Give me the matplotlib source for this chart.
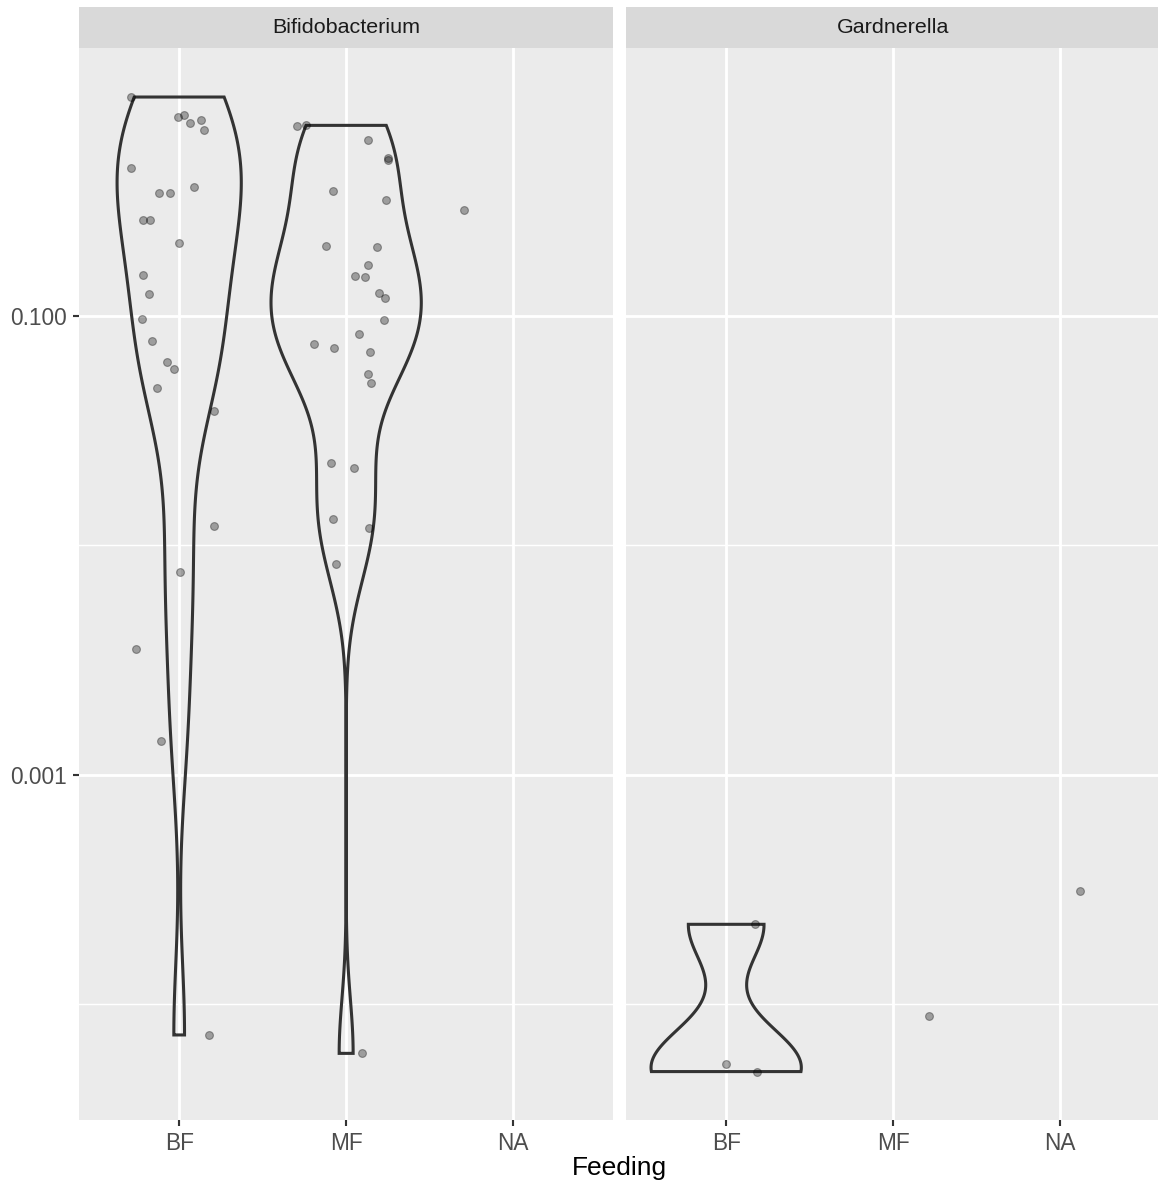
import numpy as np
import matplotlib.pyplot as plt
from matplotlib.ticker import FixedLocator, NullFormatter

plt.rcParams['font.family'] = ['Liberation Sans', 'DejaVu Sans']

feeding = ['BF', 'MF', 'NA']
genera = ['Bifidobacterium', 'Gardnerella']

# relative abundance per sample
bifido_bf = [0.897, 0.734, 0.748, 0.690, 0.711, 0.643, 0.440, 0.343, 0.344, 0.362,
             0.261, 0.260, 0.208, 0.150, 0.124, 0.0966, 0.0773, 0.0627, 0.0586,
             0.0486, 0.0386, 0.0121, 0.00762, 0.00352, 0.00140, 0.0000735]
bifido_mf = [0.670, 0.675, 0.582, 0.489, 0.478, 0.348, 0.320, 0.201, 0.199, 0.166,
             0.149, 0.148, 0.126, 0.120, 0.0955, 0.0836, 0.0750, 0.0724, 0.0698,
             0.0555, 0.0507, 0.0229, 0.0216, 0.0130, 0.0119, 0.00826, 0.0000611]
bifido_na = [0.289]
gard_bf = [0.000223, 0.0000550, 0.0000509]
gard_mf = [0.0000885]
gard_na = [0.000313]

# horizontal jitter of each point
bifido_bf_jit = [-0.287, -0.010, 0.028, 0.062, 0.130, 0.146, -0.286, -0.120, -0.054, 0.090,
                 -0.216, -0.175, -0.002, -0.214, -0.178, -0.223, -0.163, -0.070, -0.034,
                 -0.134, 0.208, 0.210, 0.002, -0.257, -0.110, 0.181]
bifido_mf_jit = [-0.292, -0.242, 0.130, 0.250, 0.248, -0.080, 0.241, -0.118, 0.184, 0.133,
                 0.054, 0.110, 0.196, 0.235, 0.228, 0.074, -0.192, -0.070, 0.142,
                 0.132, 0.148, -0.092, 0.050, -0.078, 0.138, -0.060, 0.092]
bifido_na_jit = [-0.293]
gard_bf_jit = [0.173, -0.004, 0.185]
gard_mf_jit = [0.213]
gard_na_jit = [0.119]

panels = {
    'Bifidobacterium': [(bifido_bf, bifido_bf_jit), (bifido_mf, bifido_mf_jit), (bifido_na, bifido_na_jit)],
    'Gardnerella': [(gard_bf, gard_bf_jit), (gard_mf, gard_mf_jit), (gard_na, gard_na_jit)],
}


def density(values, n=512):
    # gaussian kde on log10 scale, nrd0 bandwidth, trimmed to data range
    y = np.log10(values)
    sd = y.std(ddof=1)
    q75, q25 = np.percentile(y, [75, 25])
    bw = 0.9 * min(sd, (q75 - q25) / 1.34) * len(y) ** -0.2
    grid = np.linspace(y.min(), y.max(), n)
    d = np.exp(-0.5 * ((grid[:, None] - y[None, :]) / bw) ** 2).sum(1)
    d /= len(y) * bw * np.sqrt(2 * np.pi)
    return grid, d


all_vals = np.log10(np.concatenate([np.array(v) for g in panels.values() for v, _ in g]))
lo, hi = all_vals.min(), all_vals.max()
pad = 0.05 * (hi - lo)
ylim = (10 ** (lo - pad), 10 ** (hi + pad))

W, H, DPI = 1158, 1189, 170
fig = plt.figure(figsize=(W / DPI, H / DPI), dpi=DPI)

pw = 534.3
lefts = [79, 626]
ptop, pbot = 48.3, 1120.3
stop = 7.3

for k, genus in enumerate(genera):
    ax = fig.add_axes([lefts[k] / W, (H - pbot) / H, pw / W, (pbot - ptop) / H])
    ax.set_facecolor('#EBEBEB')
    for s in ax.spines.values():
        s.set_visible(False)
    ax.set_yscale('log')
    ax.set_ylim(ylim)
    ax.set_xlim(0.4, 3.6)
    ax.set_axisbelow(True)

    ax.yaxis.set_major_locator(FixedLocator([1e-3, 1e-1]))
    ax.yaxis.set_minor_locator(FixedLocator([1e-4, 1e-2]))
    ax.yaxis.set_minor_formatter(NullFormatter())
    ax.set_xticks([1, 2, 3])
    ax.set_xticklabels(feeding)
    ax.grid(which='major', color='white', lw=1.2)
    ax.grid(which='minor', axis='y', color='white', lw=0.6)
    ax.tick_params(which='major', length=2.75, width=0.9, color='#333333',
                   labelsize=9.6, labelcolor='#4D4D4D', pad=2.2)
    ax.tick_params(which='minor', length=0)
    if k == 0:
        ax.set_yticklabels(['0.001', '0.100'])
    else:
        ax.tick_params(axis='y', which='both', length=0, labelleft=False)

    groups = panels[genus]
    dens = {}
    for i, (vals, _) in enumerate(groups):
        if len(vals) >= 2:
            dens[i] = density(vals)
    dmax = max(d.max() for _, d in dens.values())
    for i, (grid, d) in dens.items():
        hw = 0.45 * d / dmax
        xs = np.concatenate([i + 1 + hw, (i + 1 - hw)[::-1]])
        ys = 10 ** np.concatenate([grid, grid[::-1]])
        ax.fill(xs, ys, facecolor='none', edgecolor='#333333', lw=1.3, zorder=2)

    for i, (vals, jit) in enumerate(groups):
        ax.scatter(np.array(jit) + i + 1, vals, s=11, marker='o',
                   facecolor=(0, 0, 0, 0.33), edgecolor=(0, 0, 0, 0.33),
                   linewidths=0.5, zorder=3)

    sax = fig.add_axes([lefts[k] / W, (H - ptop) / H, pw / W, (ptop - stop) / H])
    sax.set_facecolor('#D9D9D9')
    sax.set_xticks([])
    sax.set_yticks([])
    for s in sax.spines.values():
        s.set_visible(False)
    sax.text(0.5, 0.5, genus, ha='center', va='center', fontsize=9.1,
             color='#1A1A1A', transform=sax.transAxes)

fig.text((79 + 626 + pw) / 2 / W, 1 - 1168 / H, 'Feeding', ha='center', va='center',
         fontsize=11.2, color='black')

fig.savefig('out.png', dpi=DPI, facecolor='white')
